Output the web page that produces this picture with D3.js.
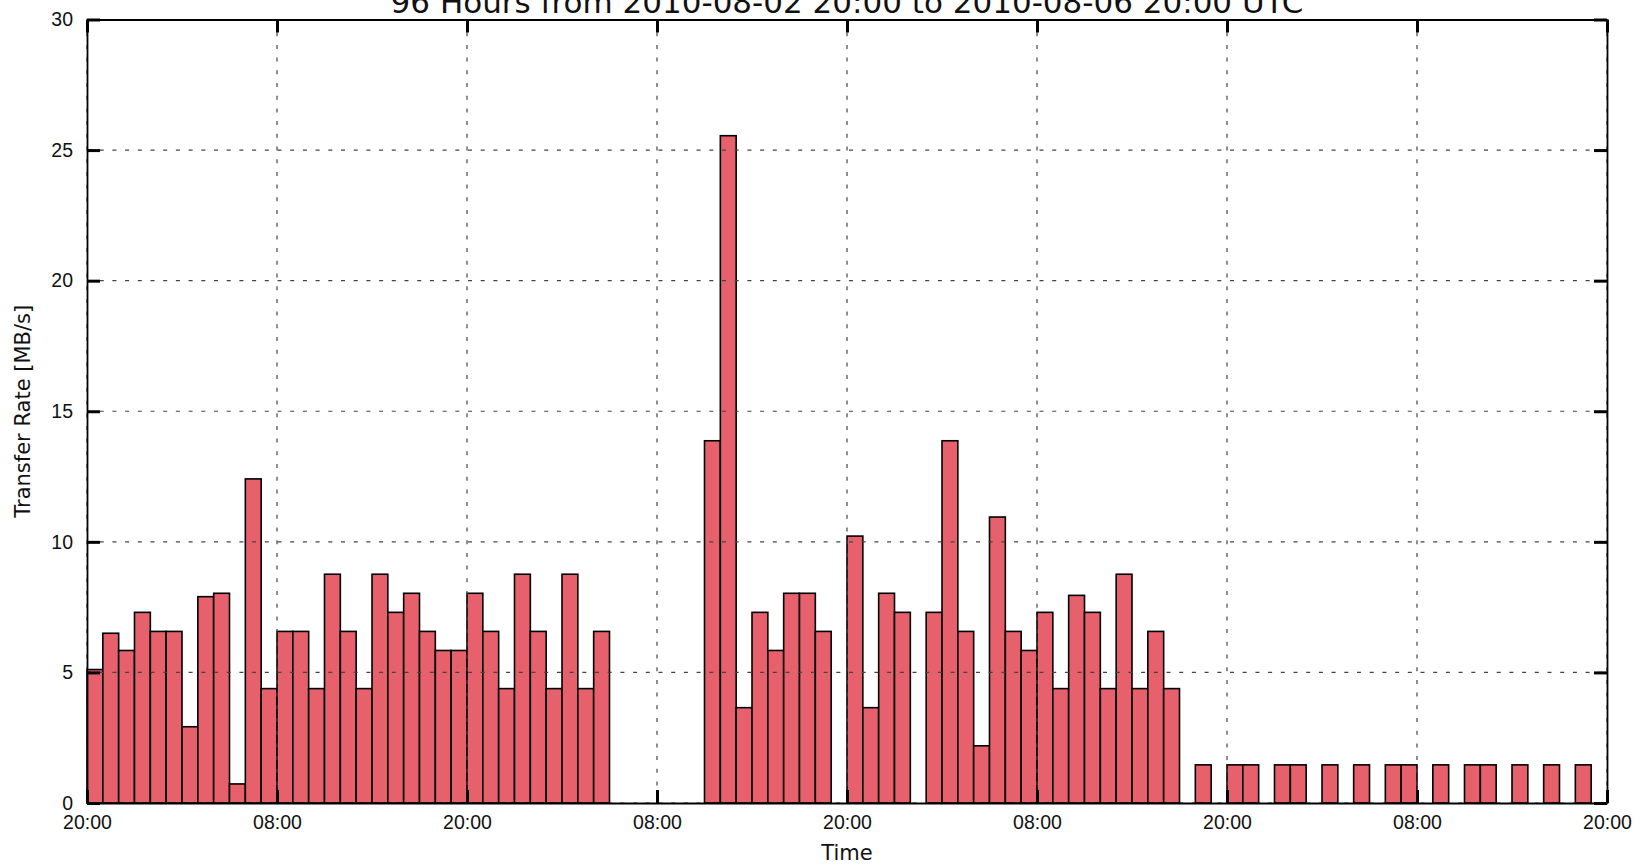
<!DOCTYPE html>
<html>
<head>
<meta charset="utf-8">
<script src="https://cdn.jsdelivr.net/npm/d3@7"></script>
<style>
    body { margin: 0; background: #fff; }
    svg { display: block; font-family: "DejaVu Sans", sans-serif; }
    .grid line { stroke: #444; stroke-width: 1.2; stroke-dasharray: 4, 8.7; }
    .axis path { stroke: #000; stroke-width: 1.8; }
    .axis line { stroke: #000; stroke-width: 3; }
    .axis text { font-size: 19.5px; fill: #111; }
</style>
</head>
<body>
<svg id="chart" width="1635" height="864"></svg>
<script>
// hourly transfer rate, one value per hour starting 2010-08-02 20:00 UTC
const startTime = new Date(Date.UTC(2010, 7, 2, 20, 0));
const hoursShown = 96;
const rates = [
    5.11, 6.50, 5.84, 7.30, 6.57, 6.57, 2.92, 7.90, 8.03, 0.73, 12.41, 4.38,
    6.57, 6.57, 4.38, 8.76, 6.57, 4.38, 8.76, 7.30, 8.03, 6.57, 5.84, 5.84,
    8.03, 6.57, 4.38, 8.76, 6.57, 4.38, 8.76, 4.38, 6.57, 0, 0, 0,
    0, 0, 0, 13.87, 25.55, 3.65, 7.30, 5.84, 8.03, 8.03, 6.57, 0,
    10.22, 3.65, 8.03, 7.30, 0, 7.30, 13.87, 6.57, 2.19, 10.95, 6.57, 5.84,
    7.30, 4.38, 7.95, 7.30, 4.38, 8.76, 4.38, 6.57, 4.38, 0, 1.46, 0,
    1.46, 1.46, 0, 1.46, 1.46, 0, 1.46, 0, 1.46, 0, 1.46, 1.46,
    0, 1.46, 0, 1.46, 1.46, 0, 1.46, 0, 1.46, 0, 1.46, 0
];
const xTickHours = [0, 12, 24, 36, 48, 60, 72, 84, 96];
const yTicks = [0, 5, 10, 15, 20, 25, 30];
const chartTitle = "96 Hours from 2010-08-02 20:00 to 2010-08-06 20:00 UTC";
const xLabel = "Time";
const yLabel = "Transfer Rate [MB/s]";

const plot = { left: 87, right: 1607, top: 19.5, bottom: 803 };
const svg = d3.select('#chart');

const endTime = d3.utcHour.offset(startTime, hoursShown);
const x = d3.scaleUtc().domain([startTime, endTime]).range([plot.left, plot.right]);
const y = d3.scaleLinear().domain([0, 30]).range([plot.bottom, plot.top]);
const xTicks = xTickHours.map(h => d3.utcHour.offset(startTime, h));

const bars = rates.map((v, i) => ({
    t0: d3.utcHour.offset(startTime, i),
    t1: d3.utcHour.offset(startTime, i + 1),
    value: v
})).filter(d => d.value > 0);

// bars
svg.append('g')
    .selectAll('rect')
    .data(bars)
    .enter()
    .append('rect')
    .attr('x', d => x(d.t0))
    .attr('width', d => x(d.t1) - x(d.t0))
    .attr('y', d => y(d.value))
    .attr('height', d => y(0) - y(d.value))
    .attr('fill', '#e6616b')
    .attr('stroke', '#000')
    .attr('stroke-width', 1.6);

// dotted grid drawn over the bars
const grid = svg.append('g').attr('class', 'grid');
grid.selectAll('line.v')
    .data(xTicks)
    .enter()
    .append('line')
    .attr('class', 'v')
    .attr('x1', d => x(d)).attr('x2', d => x(d))
    .attr('y1', plot.top).attr('y2', plot.bottom);
grid.selectAll('line.h')
    .data(yTicks)
    .enter()
    .append('line')
    .attr('class', 'h')
    .attr('x1', plot.left).attr('x2', plot.right)
    .attr('y1', d => y(d)).attr('y2', d => y(d));

// axes on all four sides, ticks pointing inwards
const fmt = d3.utcFormat('%H:%M');
svg.append('g')
    .attr('class', 'axis')
    .attr('transform', `translate(0,${plot.bottom})`)
    .call(d3.axisBottom(x).tickValues(xTicks).tickFormat(fmt).tickSizeInner(-13).tickSizeOuter(0).tickPadding(12));
svg.append('g')
    .attr('class', 'axis')
    .attr('transform', `translate(0,${plot.top})`)
    .call(d3.axisTop(x).tickValues(xTicks).tickFormat('').tickSizeInner(-13).tickSizeOuter(0));
svg.append('g')
    .attr('class', 'axis')
    .attr('transform', `translate(${plot.left},0)`)
    .call(d3.axisLeft(y).tickValues(yTicks).tickSizeInner(-13).tickSizeOuter(0).tickPadding(14));
svg.append('g')
    .attr('class', 'axis')
    .attr('transform', `translate(${plot.right},0)`)
    .call(d3.axisRight(y).tickValues(yTicks).tickFormat('').tickSizeInner(-13).tickSizeOuter(0));

// title (cut by the top edge, as in the original) and axis labels
svg.append('text')
    .attr('x', (plot.left + plot.right) / 2)
    .attr('y', 12.5)
    .attr('text-anchor', 'middle')
    .style('font-size', '31px')
    .style('fill', '#111')
    .text(chartTitle);

svg.append('text')
    .attr('x', (plot.left + plot.right) / 2)
    .attr('y', 860)
    .attr('text-anchor', 'middle')
    .style('font-size', '21px')
    .style('fill', '#111')
    .text(xLabel);

svg.append('text')
    .attr('transform', `translate(30,${(plot.top + plot.bottom) / 2}) rotate(-90)`)
    .attr('text-anchor', 'middle')
    .style('font-size', '21px')
    .style('fill', '#111')
    .text(yLabel);
</script>
</body>
</html>
